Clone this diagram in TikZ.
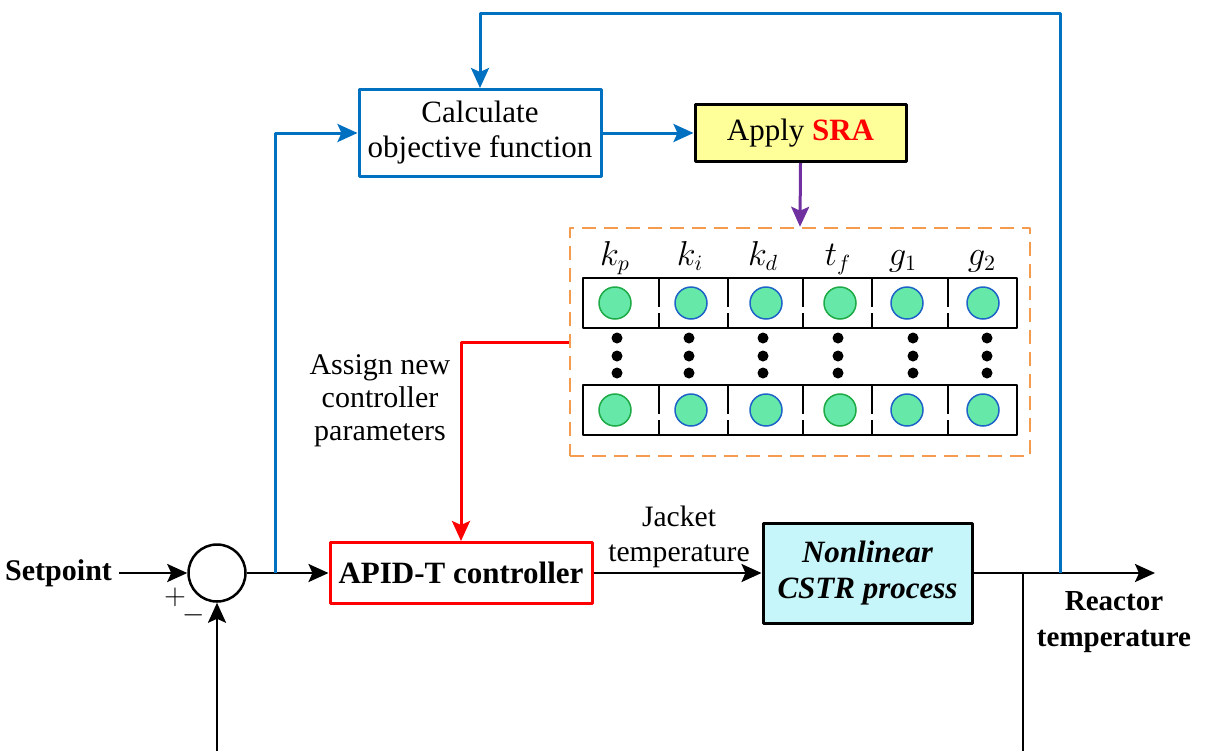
\documentclass[tikz,border=0pt]{standalone}
\usepackage{fontspec}
\setmainfont{Liberation Serif}
\usetikzlibrary{arrows.meta,calc,positioning}
\definecolor{lineblue}{RGB}{0,112,192}
\definecolor{linepurple}{RGB}{112,48,160}
\definecolor{dashorange}{RGB}{245,155,80}
\definecolor{srayellow}{RGB}{255,255,153}
\definecolor{cstrcyan}{RGB}{198,246,250}
\definecolor{dotfill}{RGB}{102,232,168}
\definecolor{dotgreen}{RGB}{30,170,70}
\definecolor{dotblue}{RGB}{30,100,200}

\begin{document}
\begin{tikzpicture}[x=0.5pt,y=-0.5pt,line join=round,
  >={Stealth[length=10pt,width=9pt,inset=2pt]},
  every node/.style={font=\fontsize{15}{17}\selectfont},
  blk/.style={draw,line width=1.5pt,align=center,inner sep=0pt},
  sig/.style={line width=1.25pt,->},
  bluesig/.style={sig,draw=lineblue,line width=1.5pt},
  rowline/.style={line width=1.25pt},
  pdot/.style={fill=dotfill,line width=0.75pt}]
\useasboundingbox (0,0) rectangle (1210,751);
\fill[white] (0,0) rectangle (1210,751);
% blocks
\node[blk,draw=lineblue,minimum width=121pt,minimum height=43.5pt,font=\fontsize{15.5}{17.5}\selectfont] (calc) at (480,133) {Calculate\\objective function};
\node[blk,fill=srayellow,minimum width=105.5pt,minimum height=28.5pt,font=\fontsize{15.5}{17.5}\selectfont] (sra) at (800.5,133) {Apply \textbf{\textcolor{red}{SRA}}};
\node[blk,draw=red,minimum width=131pt,minimum height=30.5pt,font=\fontsize{15.5}{17.5}\selectfont\bfseries] (apid) at (461,573) {APID-T controller};
\node[blk,fill=cstrcyan,minimum width=104.5pt,minimum height=50pt,font=\fontsize{15.5}{18}\selectfont\bfseries\itshape] (cstr) at (867.5,573) {Nonlinear\\CSTR process};
\node[draw,circle,line width=1.25pt,minimum size=28.5pt,inner sep=0pt] (sum) at (217,573) {};
\node[draw=dashorange,dash pattern=on 7pt off 4pt,line width=1.25pt,minimum width=230pt,minimum height=114pt,inner sep=0pt] (params) at (800,342) {};
% parameter rows
\foreach \ry in {278,385}
  \draw[rowline] (583,\ry) rectangle (1017,\ry+50);
\foreach \xx in {659,728,803,872,948}
  \foreach \ry in {278,385}
    \draw[rowline] (\xx,\ry) -- ++(0,29) ++(0,6) -- ++(0,15);
\foreach \cx/\cc in {615/dotgreen,691/dotblue,766/dotblue,840/dotgreen,907/dotblue,983/dotblue}
  \foreach \cy in {303,410}
    \draw[pdot,draw=\cc] (\cx,\cy) circle (16);
\foreach \dx in {617,689,763,838,913,987}
  \foreach \dy in {338,356,373}
    \fill (\dx,\dy) circle (5.5);
\foreach \lx/\lt/\nm in {615/k_p/kp,690/k_i/ki,763/k_d/kd,838/t_f/tf,903/g_1/ga,982/g_2/gb}
  \node[anchor=base,font=\fontsize{16}{18}\selectfont] (\nm) at (\lx,265) {$\lt$};
% labels
\node[anchor=east,font=\fontsize{15}{17}\selectfont\bfseries] (setp) at (119,573) {Setpoint};
\node[inner sep=0pt] (plus) at (175,597) {$+$};
\node[inner sep=0pt] (minus) at (194,615) {$-$};
\node[align=center,font=\fontsize{14.8}{17.5}\selectfont] (jacket) at (679,537) {Jacket\\temperature};
\node[align=center,font=\fontsize{14.5}{18}\selectfont\bfseries] (reactor) at (1114,622) {Reactor\\temperature};
\node[align=center,font=\fontsize{15}{16.5}\selectfont] (assign) at (380,401) {Assign new\\controller\\parameters};
% coordinates
\coordinate (split) at (275,573);
\coordinate (tap) at (1060,573);
\coordinate (fb) at (1023,573);
\coordinate (out) at (1155,573);
\coordinate (topc) at (480,13);
\coordinate (bot) at (0,751);
% connectors
\draw[sig] (setp.east) -- (sum.west);
\draw[sig] (sum.east) -- (apid.west);
\draw[sig] (apid.east) -- (cstr.west);
\draw[sig] (cstr.east) -- (out);
\draw[line width=1.25pt] (fb) -- (fb |- bot);
\draw[sig] (sum |- bot) -- (sum.south);
\draw[bluesig] (split) |- (calc.west);
\draw[bluesig] (tap) |- (topc) -- (calc.north);
\draw[bluesig] (calc.east) -- (sra.west);
\draw[sig,draw=linepurple,line width=1.5pt] (sra.south) -- (params.north);
\draw[sig,draw=red,line width=1.5pt] (params.west) -| (apid.north);
\end{tikzpicture}
\end{document}
